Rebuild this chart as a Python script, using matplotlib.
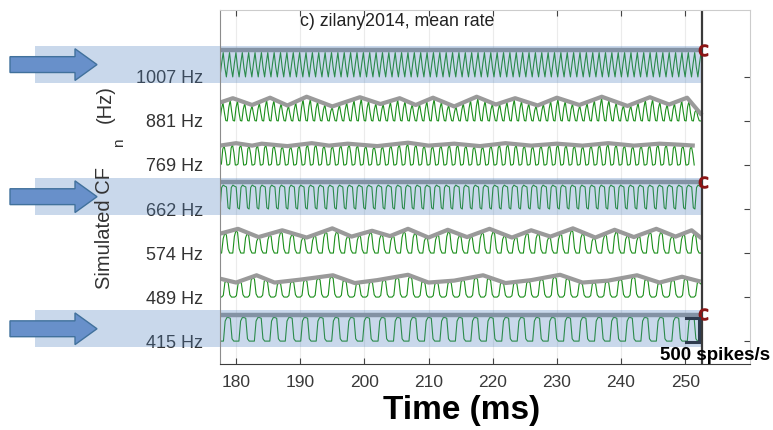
import numpy as np
import matplotlib
matplotlib.use('Agg')
import matplotlib.pyplot as plt
import matplotlib.transforms as mtransforms
from matplotlib.patches import Rectangle, Polygon

plt.rcParams['font.family'] = ['Liberation Sans', 'DejaVu Sans']

# rows, bottom to top
cf_hz = [415, 489, 574, 662, 769, 881, 1007]
cf_labels = ['415 Hz', '489 Hz', '574 Hz', '662 Hz', '769 Hz', '881 Hz', '1007 Hz']
highlighted = [True, False, False, True, False, False, True]
time_ticks = [180, 190, 200, 210, 220, 230, 240, 250]

t_start = 177.5
t_end = 252.65
green_end = [252.6, 252.4, 252.6, 252.6, 251.5, 252.6, 252.6]

# one cycle of each green trace, as fraction of the local peak
cycle_415 = [0.0, 0.0, 0.0, 0.85, 1.0, 1.0, 0.97, 0.1, 0.0]
cycle_489 = [0.0, 0.0, 0.1, 0.9, 1.0, 0.9, 0.15, 0.0]
cycle_574 = [0.0, 0.0, 0.75, 1.0, 0.9, 0.2, 0.0]
cycle_662 = [0.0, 0.9, 1.0, 0.95, 0.92, 0.05]
cycle_769 = [0.0, 0.05, 0.85, 1.0, 0.6, 0.0]
cycle_881 = [0.0, 0.65, 1.0, 0.45, 0.02]
cycle_1007 = [0.0, 0.55, 1.0, 0.4]
cycles = [cycle_415, cycle_489, cycle_574, cycle_662, cycle_769, cycle_881, cycle_1007]

# gray mean-rate lines (spikes/s), vertices
env_t_415 = [177.5, 252.6]
env_v_415 = [540, 540]
env_t_489 = [177.5, 180, 183.2, 186, 190, 195.1, 198.5, 202, 206.8, 210, 214,
             218.5, 222, 226, 230.5, 234, 238, 242.5, 246, 249.5, 252.4]
env_v_489 = [380, 300, 450, 300, 360, 450, 290, 350, 460, 300, 340,
             450, 290, 350, 460, 300, 340, 450, 300, 420, 320]
env_t_574 = [177.5, 180.3, 183.5, 187.2, 191, 195, 198, 201.2, 204, 206.8, 210,
             213, 216, 219.5, 223, 226, 229, 232.5, 236, 239, 242, 245.5, 248.5,
             251, 252.6]
env_v_574 = [400, 500, 330, 470, 320, 510, 340, 460, 350, 500, 320,
             480, 330, 500, 320, 470, 340, 510, 320, 480, 330, 500, 340,
             470, 300]
env_t_662 = [177.5, 252.6]
env_v_662 = [550, 550]
env_t_769 = [177.5, 180, 182.5, 184, 188, 191.8, 194.5, 197.4, 202, 206.8, 210,
             214, 218, 222, 226, 230, 234, 238, 242, 246, 249, 251.5]
env_v_769 = [400, 450, 400, 440, 390, 450, 400, 440, 390, 460, 400,
             440, 390, 450, 400, 440, 400, 450, 400, 440, 420, 400]
env_t_881 = [177.5, 179.5, 182.5, 185.3, 188, 191, 195, 199.3, 202.5, 205.5,
             208, 210.7, 214, 217.5, 220.5, 223.5, 227, 230, 233.5, 237, 241,
             244.5, 247.5, 250.3, 252.6]
env_v_881 = [380, 470, 330, 480, 320, 500, 300, 490, 350, 470,
             330, 480, 300, 500, 340, 470, 320, 480, 330, 500, 310,
             490, 340, 480, 120]
env_t_1007 = [177.5, 252.6]
env_v_1007 = [560, 560]
env_t = [env_t_415, env_t_489, env_t_574, env_t_662, env_t_769, env_t_881, env_t_1007]
env_v = [env_v_415, env_v_489, env_v_574, env_v_662, env_v_769, env_v_881, env_v_1007]

scale_bar = 500  # spikes/s
rate_scale = 0.0011  # row units per spike/s

W, H = 773, 430
fig = plt.figure(figsize=(W / 100, H / 100), dpi=100)
ax = fig.add_axes([220 / W, 1 - 364 / H, 530 / W, 354 / H])

for k, cf in enumerate(cf_hz):
    cyc = np.array(cycles[k])
    per = 1000.0 / cf
    tt = np.arange(t_start, green_end[k], per / len(cyc))
    frac = 0.9 if highlighted[k] else 0.95
    env = np.interp(tt, env_t[k], env_v[k]) * frac
    yy = k + np.resize(cyc, len(tt)) * env * rate_scale
    ax.plot(tt, yy, color='#1b8f1b', lw=0.8, zorder=2)
    ax.plot(env_t[k], k + np.array(env_v[k]) * rate_scale, color='#9a9a9a',
            lw=3.2 if highlighted[k] else 3, zorder=2.1,
            solid_joinstyle='round', solid_capstyle='butt')

ax.axvline(t_end, color='#3a3a3a', lw=1.6, zorder=2.4)

trans = mtransforms.blended_transform_factory(fig.transFigure, ax.transData)
for k, hl in enumerate(highlighted):
    if not hl:
        continue
    ax.add_patch(Rectangle((35 / W, k - 0.14), (703 - 35) / W, 0.84,
                           transform=trans, facecolor='#4f81bd', alpha=0.3,
                           lw=0, zorder=2.3, clip_on=False))
    c = k + 0.28
    verts = [(10 / W, c - 0.18), (75 / W, c - 0.18), (75 / W, c - 0.36),
             (97 / W, c), (75 / W, c + 0.36), (75 / W, c + 0.18),
             (10 / W, c + 0.18)]
    ax.add_patch(Polygon(verts, closed=True, transform=trans,
                         facecolor='#6890ca', edgecolor='#41719c', lw=1,
                         zorder=3, clip_on=False))
    ax.plot([t_end + 0.1], [k + 0.62], marker=r'$\mathsf{c}$', ms=8,
            color='#8b1515', zorder=4, clip_on=False)

# scale bar
sb = scale_bar * rate_scale
ax.plot([250.2, 252.1, 252.1, 250.2], [sb - 0.03, sb - 0.03, -0.03, -0.03],
        color='#2e3b4e', lw=2.2, zorder=4, solid_joinstyle='miter')

ax.set_xlim(t_start, 260.1)
ax.set_ylim(-0.52, 7.52)
ax.set_xticks(time_ticks)
ax.set_xticklabels([str(t) for t in time_ticks])
ax.set_yticks(range(len(cf_hz)))
ax.set_yticklabels(cf_labels)
ax.grid(axis='x', color='#ebebeb', lw=0.8)
ax.set_axisbelow(True)

ax.tick_params(axis='x', direction='in', length=4, top=True, color='#444444',
               labelsize=12.5, labelcolor='#3a3a3a', pad=8)
ax.tick_params(axis='y', direction='in', length=4, left=False, right=True,
               color='#444444', labelsize=13, labelcolor='#333333', pad=12)

ax.spines['left'].set_color('#8c8c8c')
ax.spines['bottom'].set_color('#3c3c3c')
ax.spines['top'].set_color('#cccccc')
ax.spines['right'].set_color('#cccccc')

fig.text(300 / W, 1 - 21 / H, 'c) zilany2014, mean rate', fontsize=12.8,
         ha='left', va='center', color='#222222')
fig.text(462 / W, 1 - 411 / H, 'Time (ms)', fontsize=24, weight='bold',
         ha='center', va='center')
fig.text(715 / W, 1 - 355 / H, '500 spikes/s', fontsize=13.5, weight='bold',
         ha='center', va='center')

fig.text(105 / W, 1 - 228 / H, 'Simulated CF', fontsize=14.5, rotation=90,
         ha='center', va='center', color='#333333')
fig.text(119 / W, 1 - 143 / H, 'n', fontsize=11, rotation=90,
         ha='center', va='center', color='#333333')
fig.text(105 / W, 1 - 104 / H, '(Hz)', fontsize=14.5, rotation=90,
         ha='center', va='center', color='#333333')

fig.savefig('out.png', dpi=100)
